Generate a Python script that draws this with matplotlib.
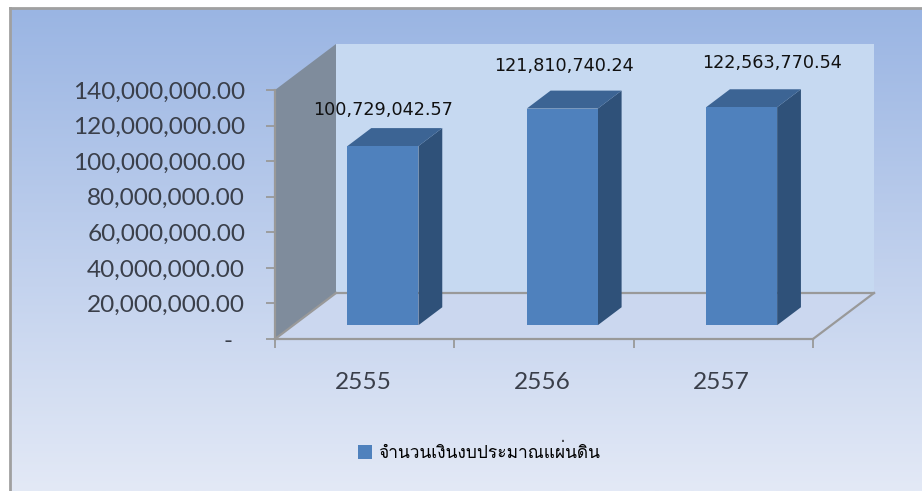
import matplotlib
matplotlib.use("Agg")
import matplotlib.pyplot as plt
import numpy as np
from matplotlib import font_manager as fm
from matplotlib.patches import Patch, Polygon
from matplotlib.ticker import FuncFormatter

years = ["2555", "2556", "2557"]
budget = [100729042.57, 121810740.24, 122563770.54]
y_ticks = [0, 20000000, 40000000, 60000000, 80000000, 100000000, 120000000, 140000000]
series_name = "จำนวนเงินงบประมาณแผ่นดิน"

W, H = 922, 491
fig = plt.figure(figsize=(W / 100, H / 100), dpi=100, facecolor="white")

# look for any installed font that has thai glyphs
thai_font = None
for f in fm.fontManager.ttflist:
    try:
        if fm.get_font(f.fname).get_char_index(ord("จ")):
            thai_font = f.name
            break
    except Exception:
        pass

# background gradient
bg = fig.add_axes([10 / W, 0, 1 - 10 / W, 1 - 8 / H])
c_top = np.array([0x9a, 0xb5, 0xe3]) / 255
c_bot = np.array([0xe3, 0xe9, 0xf6]) / 255
t = np.linspace(0, 1, 256)[:, None, None]
bg.imshow(c_top * (1 - t) + c_bot * t, aspect="auto")
bg.set_xticks([])
bg.set_yticks([])
for s in ["right", "bottom"]:
    bg.spines[s].set_visible(False)
for s in ["left", "top"]:
    bg.spines[s].set_color("#a0a0a0")
    bg.spines[s].set_linewidth(2)

# axes sits on the front plane of the 3d box
ax = fig.add_axes([275 / W, 1 - 339 / H, 538 / W, 249 / H])
ax.patch.set_visible(False)
ax.set_xlim(0, 3)
ax.set_ylim(0, 140000000)

DX = 61 / (538 / 3)  # box depth in x units
DY = 46 / 249 * 140000000  # box depth in y units


def pt(x, y, d=0.0):
    return (x + d * DX, y + d * DY)


def poly(points, color, z=1, ec="none"):
    ax.add_patch(Polygon(points, closed=True, facecolor=color, edgecolor=ec, zorder=z, clip_on=False))


# back wall, floor, left wall
poly([pt(0, 0, 1), pt(3, 0, 1), pt(3, 140000000, 1), pt(0, 140000000, 1)], "#c6d9f1")
poly([pt(0, 0), pt(3, 0), pt(3, 0, 1), pt(0, 0, 1)], "#cbd7ef")
poly([pt(0, 0), pt(0, 0, 1), pt(0, 140000000, 1), pt(0, 140000000)], "#7f8c9c")
line = dict(color="#999999", lw=1.6, clip_on=False, zorder=2)
ax.plot(*zip(pt(0, 0, 1), pt(3, 0, 1)), **line)
ax.plot(*zip(pt(3, 0), pt(3, 0, 1)), **line)
ax.plot(*zip(pt(0, 0), pt(0, 0, 1)), **line)

# bars
bar_w = 0.396
d0, d1 = 0.3, 0.69
for i, v in enumerate(budget):
    x0, x1 = i + 0.5 - bar_w / 2, i + 0.5 + bar_w / 2
    poly([pt(x1, 0, d0), pt(x1, 0, d1), pt(x1, v, d1), pt(x1, v, d0)], "#2f5179", 3)
    poly([pt(x0, v, d0), pt(x1, v, d0), pt(x1, v, d1), pt(x0, v, d1)], "#3c6494", 3)
    poly([pt(x0, 0, d0), pt(x1, 0, d0), pt(x1, v, d0), pt(x0, v, d0)], "#4f81bd", 4)

# data labels
label_dx = [0, 2, 30]
label_dy = [36, 43, 44]
for i, v in enumerate(budget):
    ax.annotate(f"{v:,.2f}", pt(i + 0.5, v, d0), xytext=(label_dx[i] * 0.72, label_dy[i] * 0.72),
                textcoords="offset points", ha="center", va="center",
                fontsize=12.7, color="#111111", zorder=5, annotation_clip=False)

# axis
for s in ["top", "right"]:
    ax.spines[s].set_visible(False)
for s in ["left", "bottom"]:
    ax.spines[s].set_color("#999999")
    ax.spines[s].set_linewidth(1.6)
    ax.spines[s].set_zorder(2.5)
ax.set_yticks(y_ticks)
ax.yaxis.set_major_formatter(FuncFormatter(lambda v, p: f"{v:,.2f}" if v else "-  "))
ax.tick_params(axis="y", length=6.5, width=1.3, color="#999999", labelsize=17.6,
               labelcolor="#3a3f4a", pad=15)
ax.set_xticks([0, 1, 2, 3])
ax.set_xticklabels([])
ax.set_xticks([0.49, 1.49, 2.49], labels=years, minor=True)
ax.tick_params(axis="x", which="major", length=6.5, width=1.3, color="#999999")
ax.tick_params(axis="x", which="minor", length=0, labelsize=17.6, labelcolor="#3a3f4a", pad=24)
for lab in ax.get_yticklabels() + ax.get_xticklabels(minor=True):
    lab.set_fontfamily("Lato")

leg_font = thai_font if thai_font else "DejaVu Sans"
fig.legend(handles=[Patch(facecolor="#4f81bd", label=series_name)], loc="center",
           bbox_to_anchor=(479 / W, 1 - 453 / H), frameon=False, handlelength=0.85, handleheight=0.85,
           handletextpad=0.35, prop=dict(family=leg_font, size=12.5))

fig.savefig("out.png", dpi=100)
